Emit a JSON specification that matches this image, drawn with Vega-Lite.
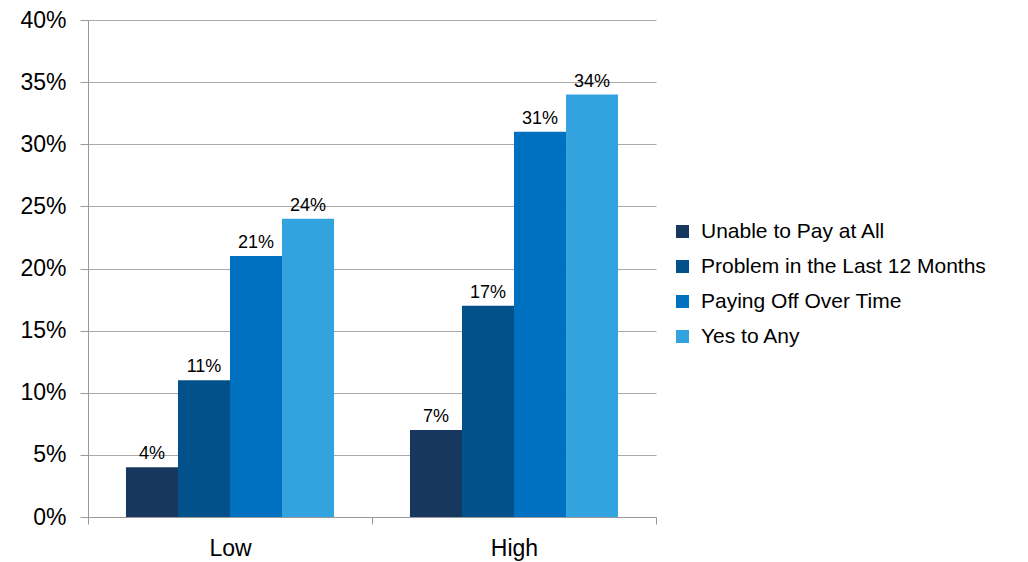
{
  "$schema": "https://vega.github.io/schema/vega-lite/v6.json",
  "autosize": {"type": "none"},
  "padding": {"left": 88, "top": 20, "right": 372, "bottom": 45},
  "width": 568,
  "height": 497,
  "background": "white",
  "config": {
    "font": "Liberation Sans",
    "view": {"stroke": null}
  },
  "data": {
    "values": [
      {"group": "Low", "series": "Unable to Pay at All", "value": 0.04},
      {"group": "Low", "series": "Problem in the Last 12 Months", "value": 0.11},
      {"group": "Low", "series": "Paying Off Over Time", "value": 0.21},
      {"group": "Low", "series": "Yes to Any", "value": 0.24},
      {"group": "High", "series": "Unable to Pay at All", "value": 0.07},
      {"group": "High", "series": "Problem in the Last 12 Months", "value": 0.17},
      {"group": "High", "series": "Paying Off Over Time", "value": 0.31},
      {"group": "High", "series": "Yes to Any", "value": 0.34}
    ]
  },
  "encoding": {
    "x": {
      "field": "group", "type": "nominal", "sort": ["Low", "High"],
      "scale": {"paddingInner": 0, "paddingOuter": 0},
      "axis": {
        "title": null, "labelAngle": 0, "labelFontSize": 23, "labelColor": "#000",
        "domainColor": "#999", "tickColor": "#999", "tickSize": 7, "tickBand": "extent",
        "labelPadding": 13, "grid": false
      }
    },
    "xOffset": {
      "field": "series", "type": "nominal",
      "sort": ["Unable to Pay at All", "Problem in the Last 12 Months", "Paying Off Over Time", "Yes to Any"],
      "scale": {"paddingInner": 0, "paddingOuter": 0.73}
    },
    "y": {
      "field": "value", "type": "quantitative",
      "scale": {"domain": [0, 0.4]},
      "axis": {
        "title": null, "format": ".0%", "values": [0, 0.05, 0.1, 0.15, 0.2, 0.25, 0.3, 0.35, 0.4],
        "labelFontSize": 23, "labelColor": "#000", "labelPadding": 14,
        "domainColor": "#999", "tickColor": "#999", "tickSize": 8,
        "gridColor": "#aaa", "grid": true
      }
    }
  },
  "layer": [
    {
      "mark": {"type": "bar"},
      "encoding": {
        "color": {
          "field": "series", "type": "nominal",
          "sort": ["Unable to Pay at All", "Problem in the Last 12 Months", "Paying Off Over Time", "Yes to Any"],
          "scale": {
            "domain": ["Unable to Pay at All", "Problem in the Last 12 Months", "Paying Off Over Time", "Yes to Any"],
            "range": ["#17375E", "#03518B", "#0070C0", "#33A3E0"]
          },
          "legend": {
            "title": null, "orient": "none", "legendX": 584, "legendY": 201,
            "symbolType": "square", "symbolSize": 170, "symbolStrokeWidth": 0,
            "labelFontSize": 21, "labelColor": "#000", "rowPadding": 13, "labelOffset": 8,
            "labelLimit": 400
          }
        }
      }
    },
    {
      "mark": {"type": "text", "dy": -13, "fontSize": 18, "color": "#000"},
      "encoding": {
        "text": {"field": "value", "type": "quantitative", "format": ".0%"}
      }
    }
  ]
}
